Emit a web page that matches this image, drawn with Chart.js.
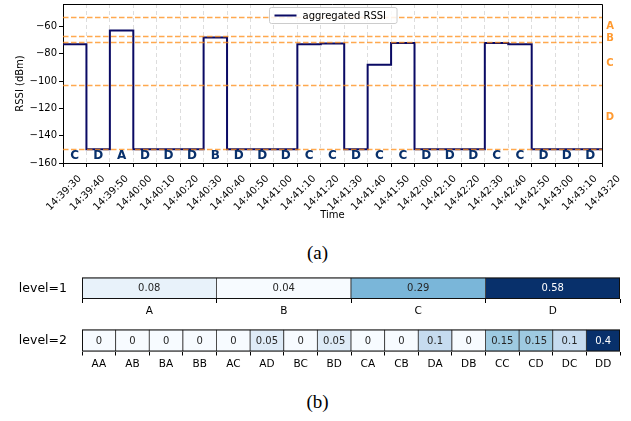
<!DOCTYPE html>
<html>
<head>
<meta charset="utf-8">
<script src="https://cdn.jsdelivr.net/npm/chart.js@4"></script>
<style>
    body { margin: 0; background: #fff; }
    #wrap { position: relative; width: 631px; height: 421px; overflow: hidden; }
    canvas { position: absolute; left: 0; }
    .caption {
        position: absolute; left: 2px; width: 631px; text-align: center;
        font-family: 'Liberation Serif', 'Times New Roman', serif; font-size: 19px; color: #000;
    }
</style>
</head>
<body>
<div id="wrap">
    <canvas id="rssi-chart" width="631" height="235" style="top:0"></canvas>
    <div class="caption" style="top:242px">(a)</div>
    <canvas id="level1-chart" width="631" height="50" style="top:270px"></canvas>
    <canvas id="level2-chart" width="631" height="52" style="top:322px"></canvas>
    <div class="caption" style="top:391px">(b)</div>
</div>
<script>
// ---- data ----
const times = ['14:39:30', '14:39:40', '14:39:50', '14:40:00', '14:40:10', '14:40:20', '14:40:30', '14:40:40',
    '14:40:50', '14:41:00', '14:41:10', '14:41:20', '14:41:30', '14:41:40', '14:41:50', '14:42:00',
    '14:42:10', '14:42:20', '14:42:30', '14:42:40', '14:42:50', '14:43:00', '14:43:10', '14:43:20'];
// one value per 10 s window
const rssi = [-73, -150, -63, -150, -150, -150, -68, -150, -150, -150, -73, -72.5,
    -150, -88, -72, -150, -150, -150, -72, -73, -150, -150, -150];
const states = ['C', 'D', 'A', 'D', 'D', 'D', 'B', 'D', 'D', 'D', 'C', 'C',
    'D', 'C', 'C', 'D', 'D', 'D', 'C', 'C', 'D', 'D', 'D'];
const thresholds = [-53, -67, -71, -103, -150];
const levelNames = ['A', 'B', 'C', 'D'];

const level1Labels = ['A', 'B', 'C', 'D'];
const level1Values = [0.08, 0.04, 0.29, 0.58];
const level2Labels = ['AA', 'AB', 'BA', 'BB', 'AC', 'AD', 'BC', 'BD', 'CA', 'CB', 'DA', 'DB', 'CC', 'CD', 'DC', 'DD'];
const level2Values = [0, 0, 0, 0, 0, 0.05, 0, 0.05, 0, 0, 0.1, 0, 0.15, 0.15, 0.1, 0.4];

Chart.defaults.font.family = "'DejaVu Sans', sans-serif";
Chart.defaults.font.size = 10;
Chart.defaults.color = '#000';

const navy = '#0a0a64';
const orange = 'rgba(255, 140, 20, 0.75)';

// ---- top chart: aggregated RSSI ----
const rssiDecor = {
    id: 'rssiDecor',
    afterDatasetsDraw(chart) {
        const {ctx, chartArea: ca, scales: {x, y}} = chart;
        ctx.save();

        // level thresholds
        ctx.strokeStyle = orange;
        ctx.lineWidth = 1.5;
        ctx.setLineDash([5.5, 2.5]);
        thresholds.forEach(t => {
            const py = Math.round(y.getPixelForValue(t)) + 0.5;
            ctx.beginPath();
            ctx.moveTo(ca.left, py);
            ctx.lineTo(ca.right, py);
            ctx.stroke();
        });
        ctx.setLineDash([]);

        // level names on the right
        ctx.fillStyle = '#ff9a30';
        ctx.font = "bold 10px 'DejaVu Sans'";
        ctx.textAlign = 'center';
        ctx.textBaseline = 'middle';
        levelNames.forEach((n, i) => {
            const py = (y.getPixelForValue(thresholds[i]) + y.getPixelForValue(thresholds[i + 1])) / 2;
            ctx.fillText(n, ca.right + 8, py);
        });

        // state of each window
        ctx.fillStyle = '#08306b';
        ctx.font = "bold 12px 'DejaVu Sans'";
        states.forEach((s, i) => {
            const px = (x.getPixelForTick(i) + x.getPixelForTick(i + 1)) / 2;
            ctx.fillText(s, px, y.getPixelForValue(-154.5));
        });

        // top and right spines
        ctx.strokeStyle = '#000';
        ctx.lineWidth = 1;
        ctx.beginPath();
        ctx.moveTo(ca.left, ca.top + 0.5);
        ctx.lineTo(ca.right + 0.5, ca.top + 0.5);
        ctx.lineTo(ca.right + 0.5, ca.bottom);
        ctx.stroke();

        // legend
        const label = chart.data.datasets[0].label;
        ctx.font = "10px 'DejaVu Sans'";
        const w = ctx.measureText(label).width + 44;
        const bx = Math.round((ca.left + ca.right) / 2 - w / 2) + 0.5;
        const by = 7.5;
        ctx.fillStyle = 'rgba(255,255,255,0.85)';
        ctx.strokeStyle = '#cccccc';
        ctx.beginPath();
        ctx.roundRect(bx, by, w, 16, 2);
        ctx.fill();
        ctx.stroke();
        ctx.strokeStyle = navy;
        ctx.lineWidth = 2;
        ctx.beginPath();
        ctx.moveTo(bx + 5, by + 8);
        ctx.lineTo(bx + 27, by + 8);
        ctx.stroke();
        ctx.fillStyle = '#000';
        ctx.textAlign = 'left';
        ctx.fillText(label, bx + 33, by + 8.5);

        ctx.restore();
    }
};

new Chart(document.getElementById('rssi-chart'), {
    type: 'line',
    data: {
        labels: times,
        datasets: [{
            label: 'aggregated RSSI',
            data: rssi.concat(rssi[rssi.length - 1]),
            borderColor: navy,
            borderWidth: 2,
            pointRadius: 0,
            stepped: 'before',
            fill: false
        }]
    },
    options: {
        responsive: false,
        animation: false,
        layout: {padding: {top: 4, right: 29, left: 0, bottom: 0}},
        plugins: {legend: {display: false}, tooltip: {enabled: false}},
        scales: {
            x: {
                offset: false,
                grid: {color: '#dddddd', lineWidth: 1, tickLength: 4, tickColor: '#000'},
                border: {color: '#000', dash: [4, 3]},
                // matplotlib centres rotated labels on the tick
                ticks: {autoSkip: false, minRotation: 45, maxRotation: 45, padding: 6, labelOffset: 17, color: '#000'},
                title: {display: true, text: 'Time', padding: {top: 0, bottom: 14}},
                afterFit: s => { s.height = 72; s.paddingLeft = 0; s.paddingRight = 0; }
            },
            y: {
                min: -160,
                max: -43.5,
                grid: {drawOnChartArea: false, tickLength: 4, tickColor: '#000'},
                border: {color: '#000'},
                ticks: {stepSize: 20, padding: 2, callback: v => String(v).replace('-', '\u2212')},
                afterBuildTicks: s => { s.ticks = s.ticks.filter(t => t.value % 20 === 0); },
                title: {display: true, text: 'RSSI (dBm)', padding: {top: 14, bottom: 0}},
                afterFit: s => { s.width = 63; s.paddingTop = 0; s.paddingBottom = 0; }
            }
        }
    },
    plugins: [rssiDecor]
});

// ---- bottom: level heatmaps ----
const bluesStops = ['#f7fbff', '#deebf7', '#c6dbef', '#9ecae1', '#6baed6', '#4292c6', '#2171b5', '#08519c', '#08306b'];

function hexRgb(h) {
    return [1, 3, 5].map(i => parseInt(h.substr(i, 2), 16));
}

function blues(t) {
    const p = Math.max(0, Math.min(1, t)) * (bluesStops.length - 1);
    const i = Math.min(Math.floor(p), bluesStops.length - 2);
    const f = p - i;
    const a = hexRgb(bluesStops[i]), b = hexRgb(bluesStops[i + 1]);
    return a.map((c, k) => Math.round(c + (b[k] - c) * f));
}

function isDark(rgb) {
    const lin = rgb.map(c => {
        c /= 255;
        return c <= 0.03928 ? c / 12.92 : Math.pow((c + 0.055) / 1.055, 2.4);
    });
    return 0.2126 * lin[0] + 0.7152 * lin[1] + 0.0722 * lin[2] < 0.408;
}

const heatText = {
    id: 'heatText',
    afterDatasetsDraw(chart, args, opts) {
        const {ctx, chartArea: ca} = chart;
        const meta = chart.getDatasetMeta(0);
        ctx.save();
        ctx.font = "10px 'DejaVu Sans'";
        ctx.textAlign = 'center';
        ctx.textBaseline = 'middle';
        meta.data.forEach((bar, i) => {
            const {x, y, base} = bar.getProps(['x', 'y', 'base'], true);
            ctx.fillStyle = opts.dark[i] ? '#ffffff' : '#262626';
            ctx.fillText(String(opts.values[i]), x, (y + base) / 2 + 0.5);
        });
        ctx.strokeStyle = '#111';
        ctx.lineWidth = 1;
        ctx.strokeRect(ca.left + 0.5, ca.top + 0.5, ca.right - ca.left - 1, ca.bottom - ca.top - 1);
        ctx.fillStyle = '#000';
        ctx.textAlign = 'right';
        ctx.font = "12.5px 'DejaVu Sans'";
        ctx.fillText(opts.name, ca.left - 15, (ca.top + ca.bottom) / 2 + 0.5);
        ctx.restore();
    }
};

function heatChart(id, labels, values, name, top, axisHeight) {
    const lo = Math.min(...values), hi = Math.max(...values);
    const rgbs = values.map(v => blues((v - lo) / (hi - lo)));
    return new Chart(document.getElementById(id), {
        type: 'bar',
        data: {
            labels: labels,
            datasets: [{
                data: values.map(() => [0, 1]),
                backgroundColor: rgbs.map(c => 'rgb(' + c.join(',') + ')'),
                borderColor: '#333333',
                borderWidth: 0.8,
                borderSkipped: false,
                barPercentage: 1,
                categoryPercentage: 1
            }]
        },
        options: {
            responsive: false,
            animation: false,
            layout: {padding: {left: 82, right: 11, top: top, bottom: 0}},
            plugins: {
                legend: {display: false},
                tooltip: {enabled: false},
                heatText: {values: values, dark: rgbs.map(isDark), name: name}
            },
            scales: {
                x: {
                    grid: {drawOnChartArea: false, tickLength: 4, tickColor: '#000'},
                    border: {display: false},
                    ticks: {autoSkip: false, maxRotation: 0, padding: 2, color: '#000', font: {size: 10.5}},
                    afterFit: s => { s.height = axisHeight; s.paddingLeft = 0; s.paddingRight = 0; }
                },
                y: {display: false, min: 0, max: 1}
            }
        },
        plugins: [heatText]
    });
}

heatChart('level1-chart', level1Labels, level1Values, 'level=1', 7.5, 21);
heatChart('level2-chart', level2Labels, level2Values, 'level=2', 7.5, 22.5);
</script>
</body>
</html>
